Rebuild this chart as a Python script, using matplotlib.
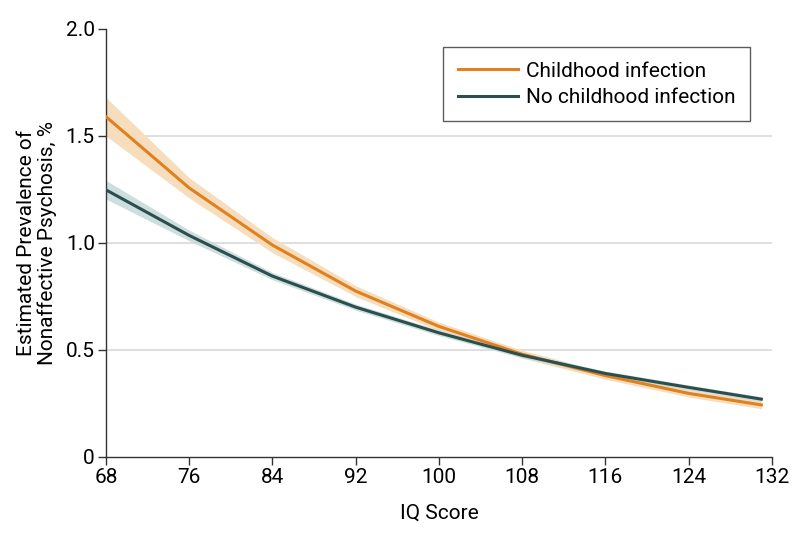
import matplotlib
matplotlib.use("Agg")
import matplotlib.pyplot as plt
import numpy as np

plt.rcParams['font.family'] = ['Roboto', 'DejaVu Sans']

iq = [68, 76, 84, 92, 100, 108, 116, 124, 131]
inf_mean = [1.59, 1.257, 0.99, 0.775, 0.61, 0.48, 0.38, 0.297, 0.243]
inf_lo = [1.50, 1.21, 0.955, 0.75, 0.59, 0.462, 0.363, 0.280, 0.225]
inf_hi = [1.68, 1.305, 1.025, 0.80, 0.63, 0.498, 0.397, 0.314, 0.261]
no_mean = [1.248, 1.035, 0.845, 0.70, 0.58, 0.475, 0.39, 0.325, 0.27]
no_lo = [1.205, 1.01, 0.828, 0.686, 0.567, 0.463, 0.379, 0.314, 0.259]
no_hi = [1.292, 1.06, 0.862, 0.714, 0.593, 0.487, 0.401, 0.336, 0.281]

xticks = [68, 76, 84, 92, 100, 108, 116, 124, 132]
yticks = [0, 0.5, 1.0, 1.5, 2.0]
yticklabels = ['0', '0.5', '1.0', '1.5', '2.0']

orange = '#E0801E'
orange_band = '#F6DDBD'
teal = '#2C4F4E'
teal_band = '#C3D9D8'

fig = plt.figure(figsize=(7.94, 5.42), dpi=100)
ax = fig.add_axes([0.1335, 0.157, 0.8385, 0.7895])

for y in [0.5, 1.0, 1.5]:
    ax.axhline(y, color='#D9D9D9', lw=1.2, zorder=0)

ax.fill_between(iq, inf_lo, inf_hi, color=orange_band, lw=0, zorder=1)
ax.fill_between(iq, no_lo, no_hi, color=teal_band, lw=0, zorder=2, alpha=0.85)
ax.plot(iq, inf_mean, color=orange, lw=2.2, label='Childhood infection', zorder=3)
ax.plot(iq, no_mean, color=teal, lw=2.2, label='No childhood infection', zorder=4)

ax.set_xlim(68, 132)
ax.set_ylim(0, 2.0)
ax.set_xticks(xticks)
ax.set_yticks(yticks)
ax.set_yticklabels(yticklabels)
for s in ['top', 'right']:
    ax.spines[s].set_visible(False)
for s in ['left', 'bottom']:
    ax.spines[s].set_color('#333333')
    ax.spines[s].set_linewidth(1)
ax.tick_params(axis='both', labelsize=15, color='#333333', length=6, width=1, direction='out', pad=2)

ax.set_xlabel('IQ Score', fontsize=15, labelpad=12)
ax.set_ylabel('Estimated Prevalence of\nNonaffective Psychosis, %', fontsize=15, labelpad=6,
              linespacing=1.1)

leg = ax.legend(loc='upper right', bbox_to_anchor=(0.968, 0.958), fontsize=15, frameon=True,
                fancybox=False, edgecolor='#333333', handlelength=2.9, handletextpad=0.4,
                borderpad=0.7, labelspacing=0.35, borderaxespad=0)
leg.get_frame().set_linewidth(1)

fig.savefig('out.png', dpi=100)
